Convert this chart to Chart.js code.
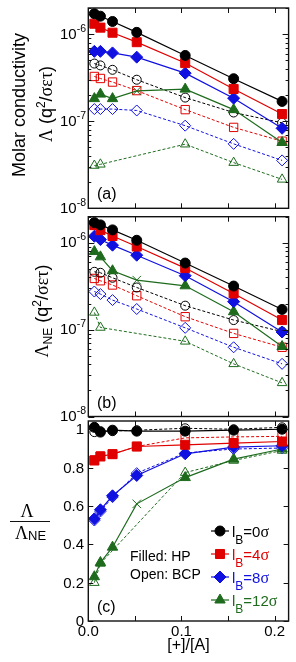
<!DOCTYPE html>
<html>
<head>
<meta charset="utf-8">
<script src="https://cdn.jsdelivr.net/npm/chart.js@4.4.1/dist/chart.umd.min.js"></script>
<style>
  html, body { margin: 0; padding: 0; background: #fff; }
  #wrap { position: relative; width: 296px; height: 662px; }
  canvas { position: absolute; left: 0; top: 0; }
</style>
</head>
<body>
<div id="wrap">
  <canvas id="panelA" width="296" height="662"></canvas>
  <canvas id="panelB" width="296" height="662"></canvas>
  <canvas id="panelC" width="296" height="662"></canvas>
</div>
<script>
// [+]/[A] values
const xVals = [0.0065, 0.013, 0.026, 0.052, 0.104, 0.156, 0.208];
const bjerrum = ["0", "4", "8", "12"];

// (a) molar conductivity, HP (filled) and BCP (open)
const aHP0 = [1.72e-6, 1.61e-6, 1.40e-6, 1.05e-6, 5.7e-7, 3.08e-7, 1.69e-7];
const aHP4 = [1.32e-6, 1.19e-6, 1.04e-6, 8.1e-7, 4.66e-7, 2.35e-7, 1.21e-7];
const aHP8 = [6.35e-7, 6.35e-7, 6.1e-7, 5.45e-7, 3.57e-7, 1.84e-7, 8.3e-8];
const aHP12 = [1.82e-7, 2.05e-7, 1.82e-7, 2.23e-7, 2.34e-7, 1.36e-7, 5.7e-8];
const aBCP0 = [4.6e-7, 4.38e-7, 3.9e-7, 3.0e-7, 1.87e-7, 1.26e-7, 9.6e-8];
const aBCP4 = [3.27e-7, 3.1e-7, 2.82e-7, 2.25e-7, 1.36e-7, 8.5e-8, 5.9e-8];
const aBCP8 = [1.38e-7, 1.38e-7, 1.38e-7, 1.33e-7, 8.9e-8, 5.5e-8, 3.55e-8];
const aBCP12 = [3.1e-8, 3.2e-8, null, null, 5.45e-8, 3.35e-8, 2.15e-8];

// (b) Nernst-Einstein conductivity
const bHP0 = [1.71e-6, 1.61e-6, 1.41e-6, 1.07e-6, 5.85e-7, 3.18e-7, 1.71e-7];
const bHP4 = [1.6e-6, 1.4e-6, 1.2e-6, 9.06e-7, 5.12e-7, 2.61e-7, 1.29e-7];
const bHP8 = [1.19e-6, 1.09e-6, 9.4e-7, 7.2e-7, 4.18e-7, 2.1e-7, 9.4e-8];
const bHP12 = [7.94e-7, 6.9e-7, 4.77e-7, 3.72e-7, 3.2e-7, 1.61e-7, 6.4e-8];
const bBCP0 = [4.64e-7, 4.52e-7, 3.96e-7, 3.06e-7, 1.89e-7, 1.29e-7, 9.5e-8];
const bBCP4 = [3.89e-7, 3.66e-7, 3.27e-7, 2.46e-7, 1.41e-7, 9.06e-8, 6.27e-8];
const bBCP8 = [2.75e-7, 2.57e-7, 2.19e-7, 1.73e-7, 1.05e-7, 6.27e-8, 4.04e-8];
const bBCP12 = [1.58e-7, 1.06e-7, null, null, 7.34e-8, 4.04e-8, 2.44e-8];

// (c) ratio
const cHP0 = [1.01, 0.985, 0.995, 0.99, 0.99, 0.995, 1.0];
const cHP4 = [0.837, 0.858, 0.87, 0.91, 0.919, 0.928, 0.936];
const cHP8 = [0.533, 0.58, 0.653, 0.759, 0.872, 0.907, 0.914];
const cHP12 = [0.231, 0.305, 0.385, 0.611, 0.748, 0.844, 0.897];
const cBCP0 = [0.985, 0.99, 0.99, 0.995, 1.005, 1.0, 1.01];
const cBCP4 = [0.84, 0.86, 0.87, 0.91, 0.955, 0.96, 0.963];
const cBCP8 = [0.524, 0.571, 0.646, 0.771, 0.876, 0.897, 0.902];
const cBCP12 = [0.2, 0.3, null, null, 0.774, 0.837, 0.889];

// ticks
const xTicks = [0, 0.05, 0.1, 0.15, 0.2];
const xLabelVals = [0, 0.1, 0.2];
const xLabels = ["0.0", "0.1", "0.2"];
const logDecades = [1e-8, 1e-7, 1e-6];
const logExps = ["-8", "-7", "-6"];
const ratioTicks = [0, 0.2, 0.4, 0.6, 0.8, 1];
const ratioLabels = ["0", "0.2", "0.4", "0.6", "0.8", "1"];

const colors = ["#000000", "#e00000", "#1010e0", "#1e6b1e"];
const markers = ["circle", "rect", "rectRot", "triangle"];
const radii = [5, 6.4, 6, 6];
const SANS = '"Liberation Sans", Arial, sans-serif';
const SERIF = '"Liberation Serif", "Times New Roman", serif';

function pts(vals) {
  return vals.map((v, k) => ({ x: xVals[k], y: v }));
}

function buildDatasets(hp, bcp) {
  const sets = [];
  hp.forEach((vals, i) => {
    sets.push({
      data: pts(vals),
      borderColor: colors[i],
      backgroundColor: colors[i],
      borderWidth: 1.2,
      pointStyle: i === 3 ? vals.map((v, k) => (k === 3 ? "crossRot" : "triangle")) : markers[i],
      pointRadius: radii[i],
      pointBorderWidth: 1,
      spanGaps: true,
    });
  });
  bcp.forEach((vals, i) => {
    sets.push({
      data: pts(vals),
      borderColor: colors[i],
      backgroundColor: "rgba(0,0,0,0)",
      pointBackgroundColor: "rgba(0,0,0,0)",
      borderWidth: 1,
      borderDash: [3, 2],
      pointStyle: markers[i],
      pointRadius: radii[i] - 0.5,
      pointBorderWidth: 1,
      spanGaps: true,
    });
  });
  return sets;
}

function drawRich(ctx, parts, x, y) {
  parts.forEach((p) => {
    ctx.font = p[1];
    ctx.fillText(p[0], x, y + (p[2] || 0));
    x += ctx.measureText(p[0]).width;
  });
}
function richWidth(ctx, parts) {
  let w = 0;
  parts.forEach((p) => {
    ctx.font = p[1];
    w += ctx.measureText(p[0]).width;
  });
  return w;
}
function line(ctx, x1, y1, x2, y2) {
  ctx.beginPath();
  ctx.moveTo(x1, y1);
  ctx.lineTo(x2, y2);
  ctx.stroke();
}

const framePlugin = {
  id: "frame",
  afterDatasetsDraw(chart, args, opts) {
    const { ctx, chartArea: a } = chart;
    const xs = chart.scales.x;
    const ys = chart.scales.y;
    ctx.save();
    ctx.strokeStyle = "#111";
    ctx.fillStyle = "#000";
    ctx.lineWidth = 1.4;
    ctx.strokeRect(a.left, a.top, a.right - a.left, a.bottom - a.top);
    ctx.lineWidth = 1;
    xTicks.forEach((v) => {
      const px = Math.round(xs.getPixelForValue(v)) + 0.5;
      line(ctx, px, a.bottom, px, a.bottom - 5);
      line(ctx, px, a.top, px, a.top + 5);
    });
    ctx.textAlign = "left";
    ctx.textBaseline = "alphabetic";
    if (opts.log) {
      logDecades.forEach((d, i) => {
        const py = Math.round(ys.getPixelForValue(d)) + 0.5;
        line(ctx, a.left, py, a.left + 6, py);
        line(ctx, a.right, py, a.right - 6, py);
        for (let m = 2; m <= 9; m++) {
          const v = m * d;
          if (v > ys.max) break;
          const my = Math.round(ys.getPixelForValue(v)) + 0.5;
          line(ctx, a.left, my, a.left + 3, my);
          line(ctx, a.right, my, a.right - 3, my);
        }
        const parts = [["10", "15px " + SANS, 0], [logExps[i], "10.5px " + SANS, -7]];
        const w = richWidth(ctx, parts);
        drawRich(ctx, parts, 86 - w, ys.getPixelForValue(d) + 4.5);
      });
    } else {
      ratioTicks.forEach((v, i) => {
        const py = Math.round(ys.getPixelForValue(v)) + 0.5;
        line(ctx, a.left, py, a.left + 5, py);
        line(ctx, a.right, py, a.right - 5, py);
        ctx.font = "15px " + SANS;
        ctx.textAlign = "right";
        ctx.fillText(ratioLabels[i], 84, ys.getPixelForValue(v) + 5);
        ctx.textAlign = "left";
      });
      ctx.font = "15px " + SANS;
      ctx.textAlign = "center";
      xLabelVals.forEach((v, i) => {
        ctx.fillText(xLabels[i], xs.getPixelForValue(v), 636);
      });
      ctx.font = "16px " + SANS;
      ctx.fillText("[+]/[A]", (a.left + a.right) / 2, 650);
      ctx.textAlign = "left";
    }
    // panel tag
    ctx.font = "16px " + SANS;
    ctx.fillText(opts.tag, 97, a.bottom - 9);
    if (opts.draw) opts.draw(ctx, a);
    ctx.restore();
  },
};

function rotatedRich(ctx, parts, bx, cy) {
  ctx.save();
  ctx.translate(bx, cy);
  ctx.rotate(-Math.PI / 2);
  const w = richWidth(ctx, parts);
  drawRich(ctx, parts, -w / 2, 0);
  ctx.restore();
}

function unitParts() {
  return [
    [" (q", "18px " + SANS, 0],
    ["2", "12px " + SANS, -7],
    ["/", "18px " + SANS, 0],
    ["σετ", "18px " + SERIF, 0],
    [")", "18px " + SANS, 0],
  ];
}

function titleA(ctx) {
  rotatedRich(ctx, [["Molar conductivity", "18px " + SANS, 0]], 25, 105);
  rotatedRich(ctx, [["Λ", "18px " + SERIF, 0]].concat(unitParts()), 52, 104);
}
function titleB(ctx) {
  rotatedRich(ctx, [["Λ", "18px " + SERIF, 0], ["NE", "12px " + SANS, 4]].concat(unitParts()), 48, 311);
}
function titleC(ctx) {
  ctx.font = "18px " + SERIF;
  ctx.textAlign = "center";
  ctx.fillText("Λ", 27, 517);
  ctx.lineWidth = 1;
  line(ctx, 10, 521.5, 50, 521.5);
  ctx.textAlign = "left";
  drawRich(ctx, [["Λ", "18px " + SERIF, 0], ["NE", "13px " + SANS, 1]], 15, 538.5);

  ctx.font = "14px " + SANS;
  ctx.fillText("Filled: HP", 130, 561);
  ctx.fillText("Open: BCP", 130, 579);

  const rows = [531, 554, 577, 600];
  const draw = Chart.helpers && Chart.helpers.drawPoint;
  rows.forEach((ry, i) => {
    ctx.strokeStyle = colors[i];
    ctx.fillStyle = colors[i];
    ctx.lineWidth = 1.2;
    line(ctx, 211, ry, 229, ry);
    ctx.lineWidth = 1;
    if (draw) {
      draw(ctx, { pointStyle: markers[i], radius: radii[i], rotation: 0, borderWidth: 1 }, 220, ry);
    }
    drawRich(ctx, [
      ["l", "15px " + SANS, 5.5],
      ["B", "12px " + SANS, 13],
      ["=" + bjerrum[i], "15px " + SANS, 5.5],
      ["σ", "16px " + SERIF, 5.5],
    ], 232, ry);
  });
}

function makePanel(id, hp, bcp, yOpts, pad, frameOpts) {
  return new Chart(document.getElementById(id), {
    type: "line",
    data: { datasets: buildDatasets(hp, bcp) },
    options: {
      responsive: false,
      animation: false,
      devicePixelRatio: 1,
      layout: { padding: { left: 88.3, right: 6.7, top: pad[0], bottom: pad[1] } },
      scales: {
        x: { type: "linear", display: false, min: 0, max: 0.215 },
        y: Object.assign({ display: false }, yOpts),
      },
      plugins: {
        legend: { display: false },
        tooltip: { enabled: false },
        frame: frameOpts,
      },
    },
    plugins: [framePlugin],
  });
}

makePanel("panelA", [aHP0, aHP4, aHP8, aHP12], [aBCP0, aBCP4, aBCP8, aBCP12],
  { type: "logarithmic", min: 1e-8, max: 2e-6 }, [8, 662 - 208.3],
  { log: true, tag: "(a)", draw: titleA });
makePanel("panelB", [bHP0, bHP4, bHP8, bHP12], [bBCP0, bBCP4, bBCP8, bBCP12],
  { type: "logarithmic", min: 1e-8, max: 2e-6 }, [216.7, 662 - 416.5],
  { log: true, tag: "(b)", draw: titleB });
makePanel("panelC", [cHP0, cHP4, cHP8, cHP12], [cBCP0, cBCP4, cBCP8, cBCP12],
  { type: "linear", min: 0, max: 1.043 }, [421, 41],
  { log: false, tag: "(c)", draw: titleC });
</script>
</body>
</html>
